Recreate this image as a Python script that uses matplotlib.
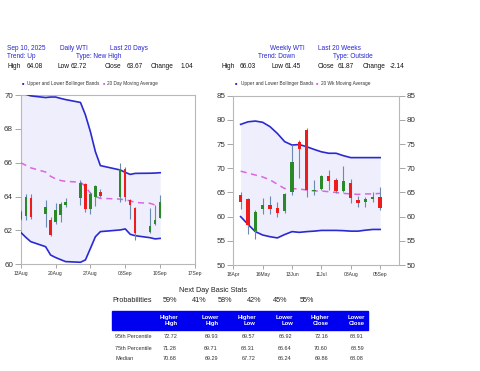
import matplotlib
matplotlib.use('Agg')
import matplotlib.pyplot as plt
import matplotlib.dates as mdates
import pandas as pd
from matplotlib.patches import Rectangle

# ---------------- Data ----------------
daily_dates = ['2025-08-13', '2025-08-14', '2025-08-15', '2025-08-18', '2025-08-19',
               '2025-08-20', '2025-08-21', '2025-08-22', '2025-08-25', '2025-08-26',
               '2025-08-27', '2025-08-28', '2025-08-29', '2025-09-02', '2025-09-03',
               '2025-09-04', '2025-09-05', '2025-09-08', '2025-09-09', '2025-09-10']
daily_open = [63.1, 62.85, 63.9, 63.0, 62.6, 62.5, 62.9, 63.5, 63.9, 64.75,
              63.25, 63.95, 64.25, 64.0, 65.6, 63.8, 63.3, 61.9, 62.4, 62.75]
daily_high = [63.2, 64.15, 64.15, 63.8, 62.8, 63.6, 63.7, 63.9, 65.0, 64.8,
              64.3, 64.7, 64.45, 66.0, 65.75, 63.85, 63.4, 63.3, 63.5, 64.08]
daily_low = [62.6, 62.6, 62.7, 62.2, 61.65, 62.4, 62.5, 63.4, 63.5, 63.1,
             62.95, 63.45, 63.95, 63.7, 63.75, 62.7, 61.45, 61.85, 62.35, 62.72]
daily_close = [62.7, 63.95, 62.8, 63.4, 61.75, 63.2, 63.55, 63.7, 64.8, 63.25,
               64.15, 64.6, 64.05, 65.6, 64.0, 63.5, 61.87, 62.26, 62.63, 63.67]
daily_upper = [70.2, 70.05, 69.95, 69.85, 69.88, 69.88, 69.8, 69.73, 69.56, 68.82,
               67.83, 66.65, 65.83, 65.57, 65.43, 65.31, 65.37, 65.38, 65.39, 65.41]
daily_lower = [61.89, 61.6, 61.34, 61.04, 60.55, 60.4, 60.28, 60.16, 60.12, 60.26,
               60.94, 61.63, 61.93, 62.03, 62.09, 61.77, 61.69, 61.57, 61.5, 61.53]
daily_ma = [66.0, 65.85, 65.7, 65.45, 65.2, 65.05, 64.95, 64.9, 64.85, 64.6,
            64.2, 64.0, 63.9, 63.85, 63.8, 63.75, 63.65, 63.6, 63.5, 63.5]

weekly_dates = ['2025-04-25', '2025-05-02', '2025-05-09', '2025-05-16', '2025-05-23',
                '2025-05-30', '2025-06-06', '2025-06-13', '2025-06-20', '2025-06-27',
                '2025-07-04', '2025-07-11', '2025-07-18', '2025-07-25', '2025-08-01',
                '2025-08-08', '2025-08-15', '2025-08-22', '2025-08-29', '2025-09-05']
weekly_open = [64.4, 63.6, 57.0, 61.6, 62.5, 61.7, 61.2, 65.0, 75.4, 78.0,
               65.2, 65.8, 68.5, 67.5, 65.2, 66.9, 63.5, 63.1, 63.7, 64.0]
weekly_high = [65.1, 63.9, 61.4, 63.9, 64.2, 63.0, 64.8, 74.8, 75.8, 78.4,
               67.6, 68.7, 69.6, 67.9, 70.5, 67.8, 64.3, 64.0, 65.0, 66.03]
weekly_low = [61.6, 56.5, 55.3, 60.6, 60.5, 59.9, 60.8, 64.5, 68.0, 64.0,
              64.5, 65.6, 65.6, 64.8, 65.0, 62.9, 61.9, 61.9, 63.1, 61.45]
weekly_close = [63.1, 58.3, 61.0, 62.5, 61.5, 60.8, 64.6, 71.3, 74.0, 65.5,
                65.6, 68.5, 67.3, 65.2, 67.3, 63.9, 62.8, 63.7, 64.0, 61.87]
weekly_upper = [79.07, 79.6, 79.76, 79.5, 78.6, 77.2, 75.5, 74.8, 74.9, 74.45,
                73.9, 73.4, 73.1, 73.1, 72.6, 72.2, 72.2, 72.2, 72.2, 72.2]
weekly_lower = [60.0, 58.4, 56.9, 56.2, 55.85, 55.6, 56.3, 56.9, 56.75, 56.9,
                57.0, 57.15, 57.15, 57.15, 57.1, 57.0, 57.0, 57.2, 57.35, 57.35]
weekly_ma = [69.4, 69.0, 68.6, 68.2, 67.6, 66.7, 65.8, 65.8, 65.7, 65.5,
             65.3, 65.3, 65.15, 65.0, 64.8, 64.7, 64.6, 64.7, 64.7, 64.8]

daily_xticks = ['2025-08-13', '2025-08-20', '2025-08-27', '2025-09-03', '2025-09-10', '2025-09-17']
weekly_xticks = ['2025-04-18', '2025-05-16', '2025-06-13', '2025-07-11', '2025-08-08', '2025-09-05']

prob_values = ['59%', '41%', '58%', '42%', '45%', '55%']
stat_headers = ['Higher\nHigh', 'Lower\nHigh', 'Higher\nLow', 'Lower\nLow', 'Higher\nClose', 'Lower\nClose']
stat_rows = ['95th Percentile', '75th Percentile', 'Median']
stat_p95 = ['72.72', '69.93', '69.57', '66.92', '72.16', '68.91']
stat_p75 = ['71.28', '69.71', '68.31', '66.64', '70.60', '68.59']
stat_median = ['70.68', '69.29', '67.72', '66.24', '69.86', '68.08']

# ---------------- Style ----------------
plt.rcParams['font.family'] = ['Liberation Sans', 'DejaVu Sans']
W, H = 480, 371
BLUE_TXT = '#2727d0'
BAND = '#2a2ad0'
FILL = '#eeeefc'
MA_C = '#dd66dd'
UP = '#2a8a2a'
DOWN = '#ee1c1c'
WICK = '#6a8ab0'

fig = plt.figure(figsize=(W / 100, H / 100), dpi=100)


def fx(x):
    return x / W


def fy(y):
    return 1 - y / H


def ftext(x, y, s, **kw):
    kw.setdefault('va', 'center')
    kw.setdefault('ha', 'left')
    fig.text(fx(x), fy(y), s, **kw)


def draw_chart(ax, dates, o, h, l, c, up, lo, ma, bw_days):
    d = mdates.date2num(pd.to_datetime(dates))
    ax.fill_between(d, lo, up, color=FILL, lw=0, zorder=1)
    ax.plot(d, up, color=BAND, lw=1.2, zorder=3)
    ax.plot(d, lo, color=BAND, lw=1.2, zorder=3)
    ax.plot(d, ma, color=MA_C, lw=1.1, ls=(0, (4, 3)), zorder=3)
    for xi, oi, hi, li, ci in zip(d, o, h, l, c):
        ax.vlines(xi, li, hi, color=WICK, lw=0.8, zorder=4)
        col = UP if ci >= oi else DOWN
        ax.bar(xi, abs(ci - oi), bottom=min(oi, ci), width=bw_days, color=col,
               lw=0, zorder=5)


def style_axes(ax):
    for s in ax.spines.values():
        s.set_color('#b8b8b8')
        s.set_linewidth(0.8)
    ax.tick_params(axis='y', labelsize=5.8, colors='#999999', labelcolor='#333333',
                   length=4, width=0.6, pad=1.5)
    ax.tick_params(axis='x', labelsize=3.6, colors='#999999', labelcolor='#333333',
                   length=3, width=0.6, pad=2)
    ax.xaxis.set_major_formatter(mdates.DateFormatter('%d%b'))


# Left (daily) chart
axL = fig.add_axes([fx(20.7), fy(264.3), fx(174.3), (169.3) / H])
draw_chart(axL, daily_dates, daily_open, daily_high, daily_low, daily_close,
           daily_upper, daily_lower, daily_ma, 0.45)
axL.set_xlim(mdates.date2num(pd.Timestamp('2025-08-13')), mdates.date2num(pd.Timestamp('2025-09-17')))
axL.set_ylim(60, 70)
axL.set_yticks([60, 62, 64, 66, 68, 70])
axL.set_xticks(mdates.date2num(pd.to_datetime(daily_xticks)))
style_axes(axL)

# Right (weekly) chart
axR = fig.add_axes([fx(233.3), fy(265), fx(165.7), 169.3 / H])
draw_chart(axR, weekly_dates, weekly_open, weekly_high, weekly_low, weekly_close,
           weekly_upper, weekly_lower, weekly_ma, 3.2)
axR.set_xlim(mdates.date2num(pd.Timestamp('2025-04-18')), mdates.date2num(pd.Timestamp('2025-09-23')))
axR.set_ylim(50, 85)
axR.set_yticks([50, 55, 60, 65, 70, 75, 80, 85])
axR.set_xticks(mdates.date2num(pd.to_datetime(weekly_xticks)))
style_axes(axR)
axR.tick_params(axis='y', right=True, labelright=True)

# ---------------- Header text ----------------
hs = 4.7
ftext(7, 48, 'Sep 10, 2025', color=BLUE_TXT, fontsize=hs)
ftext(60, 48, 'Daily WTI', color=BLUE_TXT, fontsize=hs)
ftext(110, 48, 'Last 20 Days', color=BLUE_TXT, fontsize=hs)
ftext(7, 57, 'Trend: Up', color=BLUE_TXT, fontsize=hs)
ftext(76, 57, 'Type: New High', color=BLUE_TXT, fontsize=hs)
ftext(270, 48, 'Weekly WTI', color=BLUE_TXT, fontsize=hs)
ftext(318, 48, 'Last 20 Weeks', color=BLUE_TXT, fontsize=hs)
ftext(258, 57, 'Trend: Down', color=BLUE_TXT, fontsize=hs)
ftext(333, 57, 'Type: Outside', color=BLUE_TXT, fontsize=hs)

row3_left = [(7, 'High'), (27, '64.08'), (57, 'Low'), (71, '62.72'),
             (105, 'Close'), (127, '63.67'), (151, 'Change'), (181, '1.04')]
row3_right = [(221, 'High'), (240, '66.03'), (271, 'Low'), (285, '61.45'),
              (318, 'Close'), (338, '61.87'), (363, 'Change'), (390, '-2.14')]
for x, s in row3_left + row3_right:
    ftext(x, 67, s, color='#111111', fontsize=hs)

# ---------------- Legends ----------------
ls = 3.4
ftext(22, 83, '■', color=BAND, fontsize=2.8)
ftext(27, 83, 'Upper and Lower Bollinger Bands', color='#333333', fontsize=ls)
ftext(103, 83, '■', color=MA_C, fontsize=2.8)
ftext(107, 83, '20 Day Moving Average', color='#333333', fontsize=ls)
ftext(235, 83, '■', color=BAND, fontsize=2.8)
ftext(241, 83, 'Upper and Lower Bollinger Bands', color='#333333', fontsize=ls)
ftext(316, 83, '■', color=MA_C, fontsize=2.8)
ftext(321, 83, '20 Wk Moving Average', color='#333333', fontsize=ls)

# ---------------- Stats ----------------
ftext(213, 291, 'Next Day Basic Stats', color='#222222', fontsize=5.2, ha='center')
ftext(112, 301, 'Probabilities', color='#222222', fontsize=5.2)
prob_x = [163, 192, 218, 247, 273, 300]
for x, s in zip(prob_x, prob_values):
    ftext(x, 301, s, color='#222222', fontsize=5.2)

fig.patches.append(Rectangle((fx(112), fy(330)), fx(256), (330 - 311) / H,
                             transform=fig.transFigure, color='#0000f0', zorder=0))
col_right = [178, 219, 256, 293, 329, 365]
for x, s in zip(col_right, stat_headers):
    ftext(x, 320.5, s, color='white', fontsize=4.2, fontweight='bold', ha='right',
          multialignment='right', linespacing=1.05)

row_y = [336, 348, 359]
for y, name, vals in zip(row_y, stat_rows, [stat_p95, stat_p75, stat_median]):
    ftext(115, y, name, color='#333333', fontsize=4.0)
    for x, v in zip(col_right, vals):
        ftext(x - 1, y, v, color='#333333', fontsize=4.0, ha='right')

fig.savefig('out.png', dpi=100)
